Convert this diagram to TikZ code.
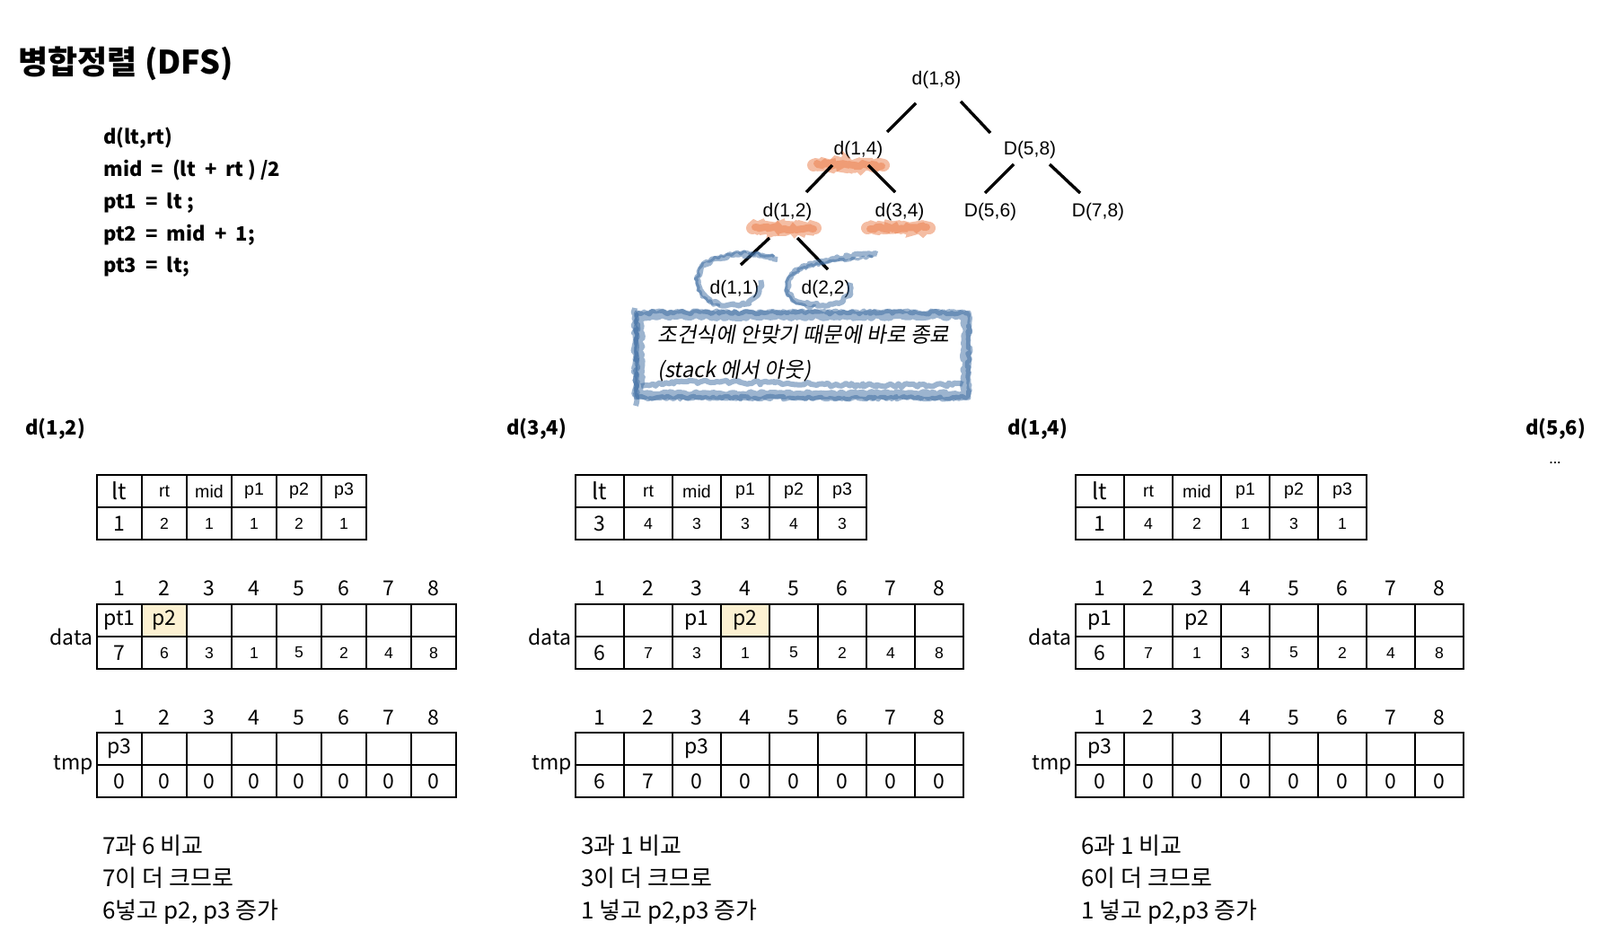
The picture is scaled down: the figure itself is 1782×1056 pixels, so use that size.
\documentclass[tikz,border=0pt]{standalone}
\usepackage{fontspec}
\setmainfont{Noto Sans CJK KR}
\newfontfamily\helv{Liberation Sans}
\newfontfamily\krslant[FakeSlant=0.18]{Noto Sans CJK KR}
\usetikzlibrary{decorations.pathmorphing}

\definecolor{hlyellow}{RGB}{252,241,210}
\definecolor{markorange}{RGB}{234,124,72}
\definecolor{chalkblue}{RGB}{58,106,160}

\newcommand\bigtxt{\fontsize{11.5}{13}\selectfont}
\newcommand\ltxt{\fontsize{12.5}{14}\selectfont}
\newcommand\hdtxt{\helv\fontsize{9.8}{11}\selectfont}
\newcommand\valtxt{\helv\fontsize{8.8}{10}\selectfont}

\tikzset{
  cell/.style={draw, line width=0.85pt, minimum width=#1, minimum height=18pt, inner sep=0pt},
  idx/.style={font=\bigtxt, inner sep=0pt},
  head/.style={font=\bfseries\fontsize{11}{12}\selectfont, anchor=base west, inner sep=0pt},
  code/.style={font=\bfseries\fontsize{11}{13}\selectfont, anchor=base west, inner sep=0pt},
  treenode/.style={font=\helv\fontsize{10.5}{12}\selectfont, inner sep=0pt},
  branch/.style={line width=1.7pt},
  marker/.style={line width=#1, markorange, opacity=.5, line cap=round, decorate,
    decoration={random steps, segment length=1.5pt, amplitude=1pt}},
  chalk/.style={chalkblue, line width=#1, opacity=.5, line join=round, decorate,
    decoration={random steps, segment length=1.5pt, amplitude=1pt}},
  note/.style={font=\fontsize{13}{15}\selectfont, anchor=base west, inner sep=0pt},
  boxnote/.style={font=\krslant\fontsize{11.8}{13}\selectfont, anchor=base west, inner sep=0pt},
}

\begin{document}
\begin{tikzpicture}[x=0.5pt,y=-0.5pt]
\useasboundingbox (0,0) rectangle (1782,1056);

% title and pseudo code
\node[anchor=west, font=\bfseries\fontsize{18}{20}\selectfont, inner sep=0pt] (title) at (20,71) {병합정렬 (DFS)};
\node[code] (c1) at (115,160) {d(lt,rt)};
\node[code] (c2) at (115,196) {mid \ = \ (lt \ + \ rt ) /2};
\node[code] (c3) at (115,232) {pt1 \ = \ lt ;};
\node[code] (c4) at (115,268) {pt2 \ = \ mid \ + \ 1;};
\node[code] (c5) at (115,303) {pt3 \ = \ lt;};

% call tree
\node[treenode] (t18) at (1043,89) {d(1,8)};
\node[treenode] (t14) at (956,167) {d(1,4)};
\node[treenode] (t58) at (1147,167) {D(5,8)};
\node[treenode] (t12) at (877,236) {d(1,2)};
\node[treenode] (t34) at (1002,236) {d(3,4)};
\node[treenode] (t56) at (1103,236) {D(5,6)};
\node[treenode] (t78) at (1223,236) {D(7,8)};
\node[treenode] (t11) at (818,322) {d(1,1)};
\node[treenode] (t22) at (920,322) {d(2,2)};

\draw[marker=7pt] ([shift={(-50,17)}]t14.center) -- ([shift={(28,17)}]t14.center);
\draw[marker=4pt] ([shift={(-46,15)}]t14.center) -- ([shift={(26,18)}]t14.center);
\draw[marker=7pt] ([shift={(-39,18)}]t12.center) -- ([shift={(31,18)}]t12.center);
\draw[marker=4pt] ([shift={(-36,17)}]t12.center) -- ([shift={(29,19)}]t12.center);
\draw[marker=7pt] ([shift={(-36,18)}]t34.center) -- ([shift={(33,18)}]t34.center);
\draw[marker=4pt] ([shift={(-33,19)}]t34.center) -- ([shift={(30,17)}]t34.center);

\draw[branch] ([shift={(-23,26)}]t18.center) -- ([shift={(32,-20)}]t14.center);
\draw[branch] ([shift={(27,24)}]t18.center) -- ([shift={(-44,-19)}]t58.center);
\draw[branch] ([shift={(-29,17)}]t14.center) -- ([shift={(21,-22)}]t12.center);
\draw[branch] ([shift={(11,17)}]t14.center) -- ([shift={(-5,-22)}]t34.center);
\draw[branch] ([shift={(-18,16)}]t58.center) -- ([shift={(-6,-21)}]t56.center);
\draw[branch] ([shift={(22,16)}]t58.center) -- ([shift={(-20,-21)}]t78.center);
\draw[branch] ([shift={(-20,29)}]t12.center) -- ([shift={(7,-27)}]t11.center);
\draw[branch] ([shift={(11,29)}]t12.center) -- ([shift={(2,-22)}]t22.center);

% chalk marks
\draw[chalk=3pt] (866,289) .. controls (840,280) and (800,282) .. (785,295)
  .. controls (772,310) and (775,333) .. (800,338) .. controls (830,343) and (850,335) .. (847,312);
\draw[chalk=1.5pt] (862,286) .. controls (835,279) and (798,280) .. (782,296)
  .. controls (770,312) and (776,336) .. (802,340);
\draw[chalk=3pt] (977,283) .. controls (940,285) and (895,292) .. (882,305)
  .. controls (870,320) and (880,338) .. (905,339) .. controls (930,341) and (950,335) .. (947,315);
\draw[chalk=1.5pt] (972,286) .. controls (935,288) and (892,295) .. (879,308)
  .. controls (868,324) and (882,341) .. (908,341);
\draw[chalk=5pt] (712,351) rectangle (1076,440);
\draw[chalk=2.5pt] (709,348) rectangle (1079,443);
\draw[chalk=3pt] (707,343) -- (708,452);
\draw[chalk=3pt] (714,430) .. controls (800,418) and (900,434) .. (1072,428);
\node[boxnote] (why1) at (732,381) {조건식에 안맞기 때문에 바로 종료};
\node[boxnote] (why2) at (732,420) {(stack 에서 아웃)};

% d(1,2)
\node[head] (hA) at (28,484) {d(1,2)};
\foreach \h [count=\i] in {lt,rt,mid,p1,p2,p3}
  \node[cell=25pt, font={\ifnum\i=1 \ltxt\else\hdtxt\fi}] (A-h\i) at ({83+\i*50},547) {\h};
\foreach \v [count=\i] in {1,2,1,1,2,1}
  \node[cell=25pt, font={\ifnum\i=1 \bigtxt\else\valtxt\fi}] (A-v\i) at ({83+\i*50},583) {\v};
\fill[hlyellow] (158,673) rectangle (208,709);
\foreach \i in {1,...,8} {
  \node[idx] (A-di\i) at ({83+\i*50},655) {\i};
  \node[idx] (A-ti\i) at ({83+\i*50},799) {\i};
}
\foreach \t [count=\i] in {pt1,p2,{},{},{},{},{},{}}
  \node[cell=25pt, font=\bigtxt] (A-dp\i) at ({83+\i*50},691) {\t};
\foreach \v [count=\i] in {7,6,3,1,5,2,4,8}
  \node[cell=25pt, font={\ifnum\i=1 \bigtxt\else\valtxt\fi}] (A-dv\i) at ({83+\i*50},727) {\v};
\foreach \t [count=\i] in {p3,{},{},{},{},{},{},{}}
  \node[cell=25pt, font=\bigtxt] (A-tp\i) at ({83+\i*50},834) {\t};
\foreach \v [count=\i] in {0,0,0,0,0,0,0,0}
  \node[cell=25pt, font=\bigtxt] (A-tv\i) at ({83+\i*50},870) {\v};
\node[idx, anchor=east] (A-data) at (104,709) {data};
\node[idx, anchor=east] (A-tmp) at (104,852) {tmp};
\foreach \s [count=\i] in {7과 6 비교,7이 더 크므로,{6넣고 p2, p3 증가}}
  \node[note] (A-n\i) at (114,{915+\i*36}) {\s};

% d(3,4)
\node[head] (hB) at (564,484) {d(3,4)};
\foreach \h [count=\i] in {lt,rt,mid,p1,p2,p3}
  \node[cell=27pt, font={\ifnum\i=1 \ltxt\else\hdtxt\fi}] (B-h\i) at ({614+\i*54},547) {\h};
\foreach \v [count=\i] in {3,4,3,3,4,3}
  \node[cell=27pt, font={\ifnum\i=1 \bigtxt\else\valtxt\fi}] (B-v\i) at ({614+\i*54},583) {\v};
\fill[hlyellow] (803,673) rectangle (857,709);
\foreach \i in {1,...,8} {
  \node[idx] (B-di\i) at ({614+\i*54},655) {\i};
  \node[idx] (B-ti\i) at ({614+\i*54},799) {\i};
}
\foreach \t [count=\i] in {{},{},p1,p2,{},{},{},{}}
  \node[cell=27pt, font=\bigtxt] (B-dp\i) at ({614+\i*54},691) {\t};
\foreach \v [count=\i] in {6,7,3,1,5,2,4,8}
  \node[cell=27pt, font={\ifnum\i=1 \bigtxt\else\valtxt\fi}] (B-dv\i) at ({614+\i*54},727) {\v};
\foreach \t [count=\i] in {{},{},p3,{},{},{},{},{}}
  \node[cell=27pt, font=\bigtxt] (B-tp\i) at ({614+\i*54},834) {\t};
\foreach \v [count=\i] in {6,7,0,0,0,0,0,0}
  \node[cell=27pt, font=\bigtxt] (B-tv\i) at ({614+\i*54},870) {\v};
\node[idx, anchor=east] (B-data) at (637,709) {data};
\node[idx, anchor=east] (B-tmp) at (637,852) {tmp};
\foreach \s [count=\i] in {3과 1 비교,3이 더 크므로,{1 넣고 p2,p3 증가}}
  \node[note] (B-n\i) at (647,{915+\i*36}) {\s};

% d(1,4)
\node[head] (hC) at (1122,484) {d(1,4)};
\foreach \h [count=\i] in {lt,rt,mid,p1,p2,p3}
  \node[cell=27pt, font={\ifnum\i=1 \ltxt\else\hdtxt\fi}] (C-h\i) at ({1171+\i*54},547) {\h};
\foreach \v [count=\i] in {1,4,2,1,3,1}
  \node[cell=27pt, font={\ifnum\i=1 \bigtxt\else\valtxt\fi}] (C-v\i) at ({1171+\i*54},583) {\v};
\foreach \i in {1,...,8} {
  \node[idx] (C-di\i) at ({1171+\i*54},655) {\i};
  \node[idx] (C-ti\i) at ({1171+\i*54},799) {\i};
}
\foreach \t [count=\i] in {p1,{},p2,{},{},{},{},{}}
  \node[cell=27pt, font=\bigtxt] (C-dp\i) at ({1171+\i*54},691) {\t};
\foreach \v [count=\i] in {6,7,1,3,5,2,4,8}
  \node[cell=27pt, font={\ifnum\i=1 \bigtxt\else\valtxt\fi}] (C-dv\i) at ({1171+\i*54},727) {\v};
\foreach \t [count=\i] in {p3,{},{},{},{},{},{},{}}
  \node[cell=27pt, font=\bigtxt] (C-tp\i) at ({1171+\i*54},834) {\t};
\foreach \v [count=\i] in {0,0,0,0,0,0,0,0}
  \node[cell=27pt, font=\bigtxt] (C-tv\i) at ({1171+\i*54},870) {\v};
\node[idx, anchor=east] (C-data) at (1194,709) {data};
\node[idx, anchor=east] (C-tmp) at (1194,852) {tmp};
\foreach \s [count=\i] in {6과 1 비교,6이 더 크므로,{1 넣고 p2,p3 증가}}
  \node[note] (C-n\i) at (1204,{915+\i*36}) {\s};

% d(5,6)
\node[head] (hD) at (1699,484) {d(5,6)};
\node[font=\fontsize{8}{9}\selectfont, inner sep=0pt] (more) at (1732,516) {...};
\end{tikzpicture}
\end{document}
